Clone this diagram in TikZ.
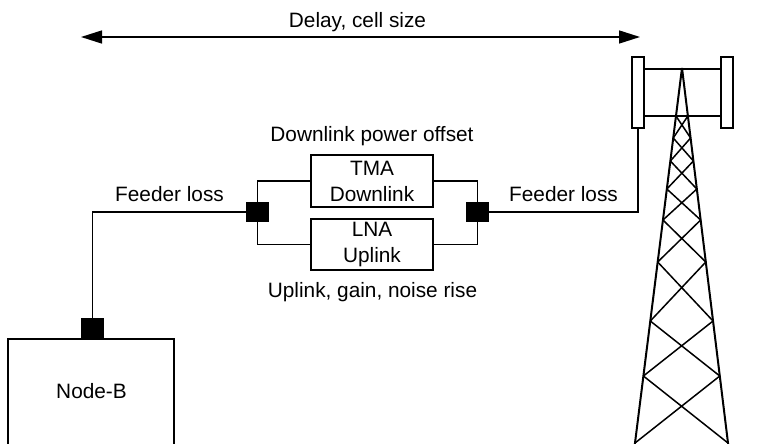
\documentclass[tikz,border=0pt]{standalone}
\usepackage{fontspec}
\setmainfont{Liberation Sans}
\usetikzlibrary{arrows.meta}
\begin{document}
\begin{tikzpicture}[x=1pt,y=-1pt,
  every node/.style={font=\fontsize{20.8}{26}\selectfont, inner sep=0pt},
  wire/.style={line width=1.5pt},
  box/.style={draw, line width=1.5pt, align=center},
  port/.style={fill=black, minimum width=23pt, minimum height=20pt},
  panel/.style={draw, line width=1.5pt, fill=white, minimum width=12pt, minimum height=71pt},
  leg/.style={line width=2pt},
  brace/.style={line width=1.5pt},
  lbl/.style={anchor=base},
  tip/.style={Triangle[length=21pt,width=13pt]}]
\useasboundingbox (0,0) rectangle (768,444);

% range arrow across the top
\coordinate (dl) at (81,37);
\coordinate (dr) at (640,37);
\draw[wire, {Triangle[length=21pt,width=13pt]}-{Triangle[length=21pt,width=13pt]}] (dl) -- (dr);
\node[lbl] (delay) at (357.5,28) {Delay, cell size};

% mast-head amplifiers
\node[box, minimum width=122pt, minimum height=52pt] (tma) at (372,181) {TMA\\Downlink};
\node[box, minimum width=122pt, minimum height=51pt] (lna) at (372,244.5) {LNA\\Uplink};
\node[lbl] (dlpo) at (372,141) {Downlink power offset};
\node[lbl] (ulgn) at (372.5,297) {Uplink, gain, noise rise};

% connectors (black blocks)
\node[port] (p1) at (257.5,212) {};
\node[port] (p2) at (477.5,212) {};

% base station
\node[box, minimum width=166pt, minimum height=130pt, anchor=north] (nodeb) at (91,338) {};
\node[lbl] (nodebtxt) at (91.5,398) {Node-B};
\node[port] (p3) at (92.5,328) {};

% antenna panels and mast
\node[panel] (antl) at (638,92.5) {};
\node[panel] (antr) at (727,92.5) {};
\draw[leg] (644,69) -- (721,69);
\draw[leg] (644,116) -- (721,116);
\draw[leg] (682,68) -- (634.12,450);
\draw[leg] (682,68) -- (728.86,450);
\foreach \ya/\yb in {116/138,138/161,161/189,189/220,220/262,262/321,321/376,376/443}
  \draw[brace] ({682-(\ya-68)*0.12533},\ya) -- ({682+(\yb-68)*0.12267},\yb)
               ({682+(\ya-68)*0.12267},\ya) -- ({682-(\yb-68)*0.12533},\yb);

% feeder runs
\draw[wire] (p1.west) -| (p3.north);
\draw[wire] (p1.north) |- (tma.west);
\draw[wire] (p1.south) |- (lna.west);
\draw[wire] (p2.north) |- (tma.east);
\draw[wire] (p2.south) |- (lna.east);
\draw[wire] (p2.east) -| (antl.south);
\node[lbl] (fl1) at (169.5,201) {Feeder loss};
\node[lbl] (fl2) at (563.5,201.5) {Feeder loss};
\end{tikzpicture}
\end{document}
